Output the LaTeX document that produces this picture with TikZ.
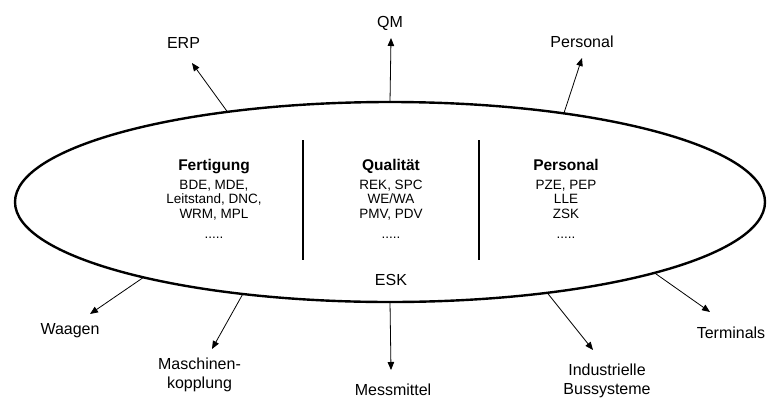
\documentclass[tikz,border=0pt]{standalone}
\usepackage{fontspec}
\setmainfont{Liberation Sans}
\usetikzlibrary{shapes.geometric,arrows.meta}

\tikzset{
  hub/.style={ellipse, draw, line width=2.4pt, minimum width=750pt,
    minimum height=200pt, inner sep=0pt, outer sep=0pt},
  divider/.style={line width=1.8pt},
  link/.style={line width=0.8pt, -{Triangle[length=8pt,width=6.5pt]}},
  outer/.style={inner sep=0pt, font=\fontsize{16}{19}\selectfont, align=center},
  block/.style={inner sep=0pt, anchor=north, align=center,
    font=\fontsize{13.5}{14.5}\selectfont},
}
\newcommand{\blockhead}[1]{{\fontsize{15.5}{14.5}\selectfont\bfseries #1}}

\begin{document}
\begin{tikzpicture}[x=1pt, y=-1pt]
\useasboundingbox (0,0) rectangle (767,399);

% central ellipse
\node[hub] (esk) at (390,202) {};
\node[outer, anchor=base] (eskname) at (391,285) {ESK};

% three application areas
\node[block] (fert) at (214,159) {\blockhead{Fertigung}\\[4.5pt]
  BDE, MDE,\\ Leitstand, DNC,\\ WRM, MPL\\[5.5pt] .....};
\node[block] (qual) at (391,159) {\blockhead{Qualität}\\[4.5pt]
  REK, SPC\\ WE/WA\\ PMV, PDV\\[5.5pt] .....};
\node[block] (pers) at (566,159) {\blockhead{Personal}\\[4.5pt]
  PZE, PEP\\ LLE\\ ZSK\\[5.5pt] .....};

\coordinate (d1a) at (303,140); \coordinate (d1b) at (303,260);
\coordinate (d2a) at (479,140); \coordinate (d2b) at (479,260);
\draw[divider] (d1a) -- (d1b);
\draw[divider] (d2a) -- (d2b);

% connected systems
\node[outer, anchor=base] (qm) at (390,27) {QM};
\node[outer, anchor=base] (erp) at (183.5,48) {ERP};
\node[outer, anchor=base] (personal) at (582,47) {Personal};
\node[outer, anchor=base] (waagen) at (70,334) {Waagen};
\node[outer, anchor=north] (masch) at (199.5,358) {Maschinen-\\kopplung};
\node[outer, anchor=base] (mess) at (393,395) {Messmittel};
\node[outer, anchor=north] (bus) at (607,364) {Industrielle\\Bussysteme};
\node[outer, anchor=base] (term) at (731,338) {Terminals};

\coordinate (tqm) at (391,38);
\coordinate (terp) at (192,63);
\coordinate (tpers) at (582,58);
\coordinate (twaag) at (90,314);
\coordinate (tmasch) at (212,349);
\coordinate (tmess) at (391,370);
\coordinate (tbus) at (593,350);
\coordinate (tterm) at (710,312);

\draw[link] (esk.90) -- (tqm);
\draw[link] (esk.151.7) -- (terp);
\draw[link] (esk.27.5) -- (tpers);
\draw[link] (esk.197.2) -- (twaag);
\draw[link] (esk.212.6) -- (tmasch);
\draw[link] (esk.270) -- (tmess);
\draw[link] (esk.330.8) -- (tbus);
\draw[link] (esk.345) -- (tterm);
\end{tikzpicture}
\end{document}
